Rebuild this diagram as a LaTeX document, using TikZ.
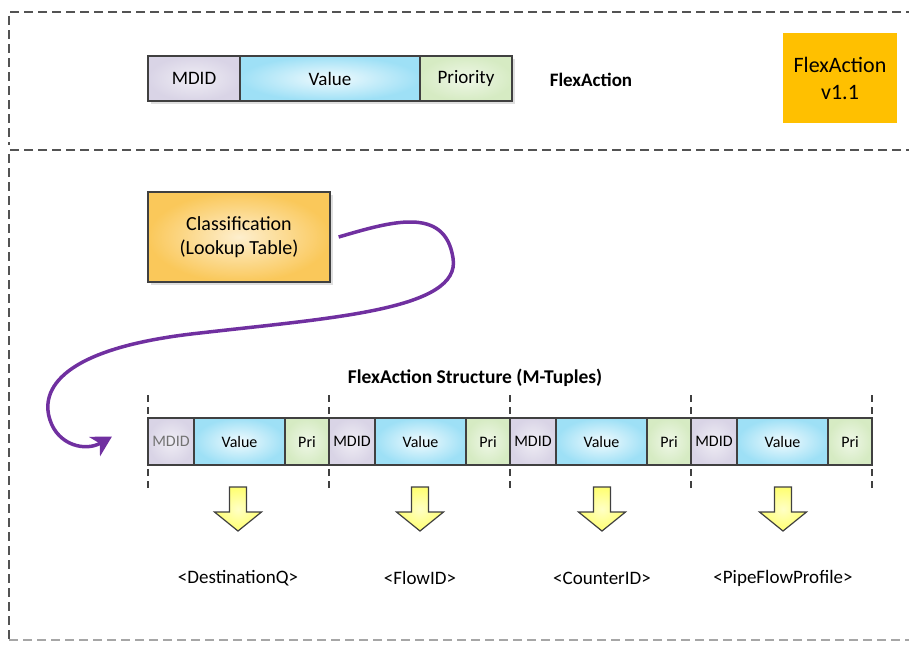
\documentclass[tikz,border=0pt]{standalone}
\usepackage{fontspec}
\setmainfont{Carlito}
\usetikzlibrary{arrows.meta,shadows,calc}
\definecolor{bord}{HTML}{404040}
\definecolor{mdidc}{HTML}{D9D4E6}
\definecolor{valc}{HTML}{9EE0F6}
\definecolor{pric}{HTML}{D6EBC3}
\definecolor{orng}{HTML}{FFC000}
\definecolor{clsc}{HTML}{FAC85A}
\definecolor{purp}{HTML}{7030A0}
\definecolor{yel}{HTML}{FFFF70}
\tikzset{
  cell/.style={draw=bord, line width=1.3pt, minimum height=#1, inner sep=0pt, outer sep=0pt, anchor=north west},
  mdidtop/.style={cell=45, minimum width=92, inner color=mdidc!40, outer color=mdidc, font=\fontsize{19}{22}\selectfont},
  valtop/.style={cell=45, minimum width=180, inner color=valc!15, outer color=valc, font=\fontsize{19}{22}\selectfont},
  pritop/.style={cell=45, minimum width=92, inner color=pric!40, outer color=pric, font=\fontsize{19}{22}\selectfont},
  mdidbot/.style={cell=47, minimum width=46, inner color=mdidc!40, outer color=mdidc, font=\fontsize{16}{18}\selectfont},
  valbot/.style={cell=47, minimum width=91, inner color=valc!15, outer color=valc, font=\fontsize{16}{18}\selectfont},
  pribot/.style={cell=47, minimum width=44, inner color=pric!40, outer color=pric, font=\fontsize{16}{18}\selectfont},
  frame/.style={draw=bord!90, line width=1.4pt, dash pattern=on 9pt off 5pt},
  sep/.style={draw=bord, line width=1.4pt, dash pattern=on 7pt off 5pt},
  lbl/.style={font=\fontsize{19}{22}\selectfont},
  yarrow/.style={draw=bord, line width=1.2pt, line join=miter, inner color=yel!40, outer color=yel},
  shadowed/.style={drop shadow={shadow xshift=3pt, shadow yshift=-3pt, fill=black!25, opacity=0.5}}
}
\begin{document}
\begin{tikzpicture}[x=1pt,y=-1pt]
\useasboundingbox (0,0) rectangle (909,645);
% frames
\draw[frame] (915,12) -- (9,12) -- (9,145);
\draw[frame] (915,150) -- (9,150) -- (9,640);
\draw[frame, draw=black!35] (9,640) -- (915,640);
% top row
\node[mdidtop, shadowed] (tm) at (148,56) {MDID};
\node[valtop, shadowed] (tv) at (tm.north east) {Value};
\node[pritop, shadowed] (tp) at (tv.north east) {Priority};
\node[font=\bfseries\fontsize{19}{22}\selectfont] (tl) at (591,80) {FlexAction};
\node[fill=orng, minimum width=114, minimum height=90, align=center, font=\fontsize{22}{27}\selectfont, inner sep=0pt] (ver) at (840,78) {FlexAction\\v1.1};
% classification
\node[draw=bord, line width=1.3pt, minimum width=182, minimum height=90, inner color=clsc!30!white, outer color=clsc, align=center, font=\fontsize{20}{24}\selectfont, shadowed] (cls) at (239,237) {Classification\\(Lookup Table)};
% structure title
\node[font=\bfseries\fontsize{19.5}{22}\selectfont] (st) at (475,378) {FlexAction Structure (M-Tuples)};
% tuples
\node[mdidbot, text=black!55] (m1) at (148,418) {MDID};
\node[valbot] (v1) at (m1.north east) {Value};
\node[pribot] (p1) at (v1.north east) {Pri};
\node[mdidbot] (m2) at (p1.north east) {MDID};
\node[valbot] (v2) at (m2.north east) {Value};
\node[pribot] (p2) at (v2.north east) {Pri};
\node[mdidbot] (m3) at (p2.north east) {MDID};
\node[valbot] (v3) at (m3.north east) {Value};
\node[pribot] (p3) at (v3.north east) {Pri};
\node[mdidbot] (m4) at (p3.north east) {MDID};
\node[valbot] (v4) at (m4.north east) {Value};
\node[pribot] (p4) at (v4.north east) {Pri};
% separators
\foreach \n in {m1,m2,m3,m4}{
  \draw[sep] ($(\n.north west)+(0,-23)$) -- (\n.north west);
  \draw[sep] ($(\n.south west)+(0,23)$) -- (\n.south west);
}
\draw[sep] ($(p4.north east)+(0,-23)$) -- (p4.north east);
\draw[sep] ($(p4.south east)+(0,23)$) -- (p4.south east);
% yellow arrows and labels
\foreach \x/\name/\t in {238/a1/{<DestinationQ>},420/a2/{<FlowID>},602/a3/{<CounterID>},783/a4/{<PipeFlowProfile>}}{
  \coordinate (\name) at (\x,487);
  \fill[black!20, opacity=0.6, xshift=3pt, yshift=-3pt] ($(\name)+(-8.5,0)$) -- ++(17,0) -- ++(0,25) -- ++(15,0) -- ($(\name)+(0,44)$) -- ($(\name)+(-23.5,25)$) -- ++(15,0) -- cycle;
  \draw[yarrow] ($(\name)+(-8.5,0)$) -- ++(17,0) -- ++(0,25) -- ++(15,0) -- ($(\name)+(0,44)$) -- ($(\name)+(-23.5,25)$) -- ++(15,0) -- cycle;
  \node[lbl] (\name l) at (\x,578) {\t};
}
% purple connector
\draw[purp, line width=3.5pt, -{Stealth[length=20pt,width=22pt,inset=6pt]}]
  ([xshift=8]cls.east) .. controls (390,222) and (445,205) .. (453,258)
  .. controls (462,310) and (330,318) .. (200,333)
  .. controls (60,348) and (40,390) .. (50,420)
  .. controls (58,445) and (85,452) .. ([xshift=-36,yshift=5]m1.west);
\end{tikzpicture}
\end{document}
